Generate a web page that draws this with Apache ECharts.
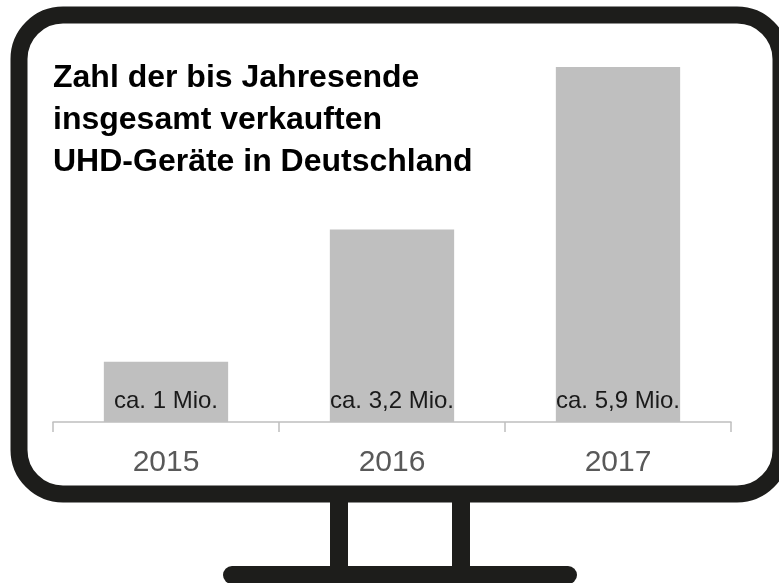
<!DOCTYPE html>
<html lang="de">
<head>
<meta charset="UTF-8">
<title>UHD-Geräte in Deutschland</title>
<script src="https://cdn.jsdelivr.net/npm/echarts@6/dist/echarts.min.js"></script>
<style>
  html, body { margin: 0; padding: 0; background: #fff; }
  #chart { width: 779px; height: 583px; }
</style>
</head>
<body>
<div id="chart"></div>
<script>
// Daten
var years = ['2015', '2016', '2017'];
var sold = [1, 3.2, 5.9];               // Mio. Geräte
var labels = ['ca. 1 Mio.', 'ca. 3,2 Mio.', 'ca. 5,9 Mio.'];

var frameColor = '#1d1d1b';
var chart = echarts.init(document.getElementById('chart'));

chart.setOption({
  animation: false,
  backgroundColor: '#fff',
  grid: { left: 53, right: 48, top: 61, bottom: 161 },
  xAxis: {
    type: 'category',
    data: years,
    axisLine: { lineStyle: { color: '#bfbfbf', width: 1.5 } },
    axisTick: { show: true, alignWithLabel: false, length: 10, lineStyle: { color: '#bfbfbf', width: 1.5 } },
    axisLabel: {
      color: '#595959', fontSize: 30, margin: 26,
      fontFamily: 'Liberation Sans, Arial, sans-serif'
    }
  },
  yAxis: { type: 'value', min: 0, max: 6, show: false },
  series: [{
    type: 'bar',
    data: sold,
    barCategoryGap: '45%',
    itemStyle: { color: '#bfbfbf' },
    label: {
      show: true,
      position: 'insideBottom',
      distance: 9,
      color: '#1a1a1a',
      fontSize: 24,
      fontFamily: 'Liberation Sans, Arial, sans-serif',
      formatter: function (p) { return labels[p.dataIndex]; }
    }
  }],
  graphic: [
    // Titel
    {
      type: 'text', left: 53, top: 57, z: 10,
      style: {
        text: 'Zahl der bis Jahresende\ninsgesamt verkauften\nUHD-Geräte in Deutschland',
        fill: '#000', font: 'bold 32px "Liberation Sans", Arial, sans-serif',
        lineHeight: 42
      }
    },
    // Bildschirmrahmen
    {
      type: 'rect', z: 5,
      shape: { x: 19, y: 15, width: 762, height: 479, r: 44 },
      style: { fill: 'none', stroke: frameColor, lineWidth: 17 }
    },
    // Standfuß
    { type: 'rect', z: 5, shape: { x: 330, y: 500, width: 18, height: 70 }, style: { fill: frameColor } },
    { type: 'rect', z: 5, shape: { x: 452, y: 500, width: 18, height: 70 }, style: { fill: frameColor } },
    { type: 'rect', z: 5, shape: { x: 223, y: 566, width: 354, height: 18, r: 9 }, style: { fill: frameColor } }
  ]
});
</script>
</body>
</html>
